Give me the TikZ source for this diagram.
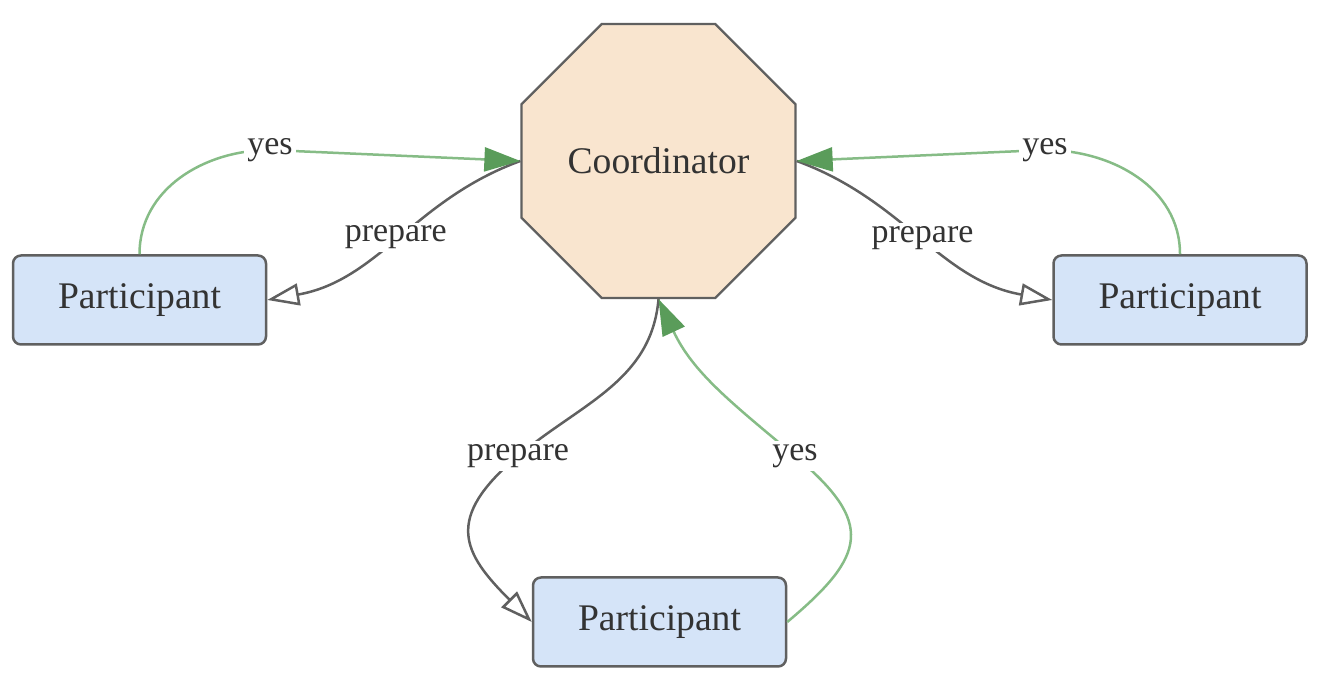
\documentclass[tikz,border=0pt]{standalone}
\usepackage{fontspec}
\setmainfont{Liberation Serif}
\usepackage{xcolor}
\usetikzlibrary{arrows.meta,shapes.geometric}
\definecolor{boxblue}{HTML}{D5E4F8}
\definecolor{octfill}{HTML}{F9E5CF}
\definecolor{edgegray}{HTML}{606060}
\definecolor{yesgreen}{HTML}{86BC86}
\definecolor{tipgreen}{HTML}{5A9C5A}
\definecolor{txtgray}{HTML}{333333}
\tikzset{%
  tipY/.tip={Triangle[length=18pt,width=12pt,color=tipgreen]},
  tipP/.tip={Triangle[open,length=16pt,width=11pt]},
  partbox/.style={draw=edgegray, line width=1.25pt, fill=boxblue, rounded corners=4pt,
    minimum width=126.5pt, minimum height=44.5pt, font=\fontsize{18.8}{22}\selectfont, text=txtgray},
  coordbox/.style={regular polygon, regular polygon sides=8, minimum size=148.3pt, inner sep=0pt,
    draw=edgegray, line width=1.1pt, fill=octfill, font=\fontsize{18.8}{22}\selectfont, text=txtgray},
  lbl/.style={fill=white, inner sep=1.5pt, font=\fontsize{17}{20}\selectfont, text=txtgray},
  yesline/.style={draw=yesgreen, line width=1.25pt, -tipY},
  prepline/.style={draw=edgegray, line width=1.25pt, -tipP}
}

\begin{document}
\begin{tikzpicture}[x=0.5pt,y=0.5pt]
\useasboundingbox (0,0) rectangle (1332,688);

\node[coordbox] (co) at (658.5,527) {Coordinator};
\node[partbox] (pl) at (139.5,388) {Participant};
\node[partbox] (pr) at (1180,388) {Participant};
\node[partbox] (pb) at (659.5,66) {Participant};

\coordinate (yl) at (270,538);
\coordinate (yr) at (1045,538);
\coordinate (yb) at (795,232);
\coordinate (pbl) at (518,232);

\draw[prepline] (co.west) to[out=200,in=10] node[lbl]{prepare} (pl.east);
\draw[prepline] (co.east) to[out=-20,in=170] node[lbl]{prepare} (pr.west);
\draw[prepline] (co.south) to[out=-95,in=40] (pbl) node[lbl]{prepare} to[out=220,in=135,looseness=1.5] (pb.west);

\draw[yesline] (pl.north) to[out=90,in=180] (yl) node[lbl]{yes} -- (co.west);
\draw[yesline] (pr.north) to[out=90,in=0] (yr) node[lbl]{yes} -- (co.east);
\draw[yesline] (pb.east) to[out=40,in=-40,looseness=1.6] (yb) node[lbl]{yes} to[out=140,in=-65] (co.south);
\end{tikzpicture}
\end{document}
